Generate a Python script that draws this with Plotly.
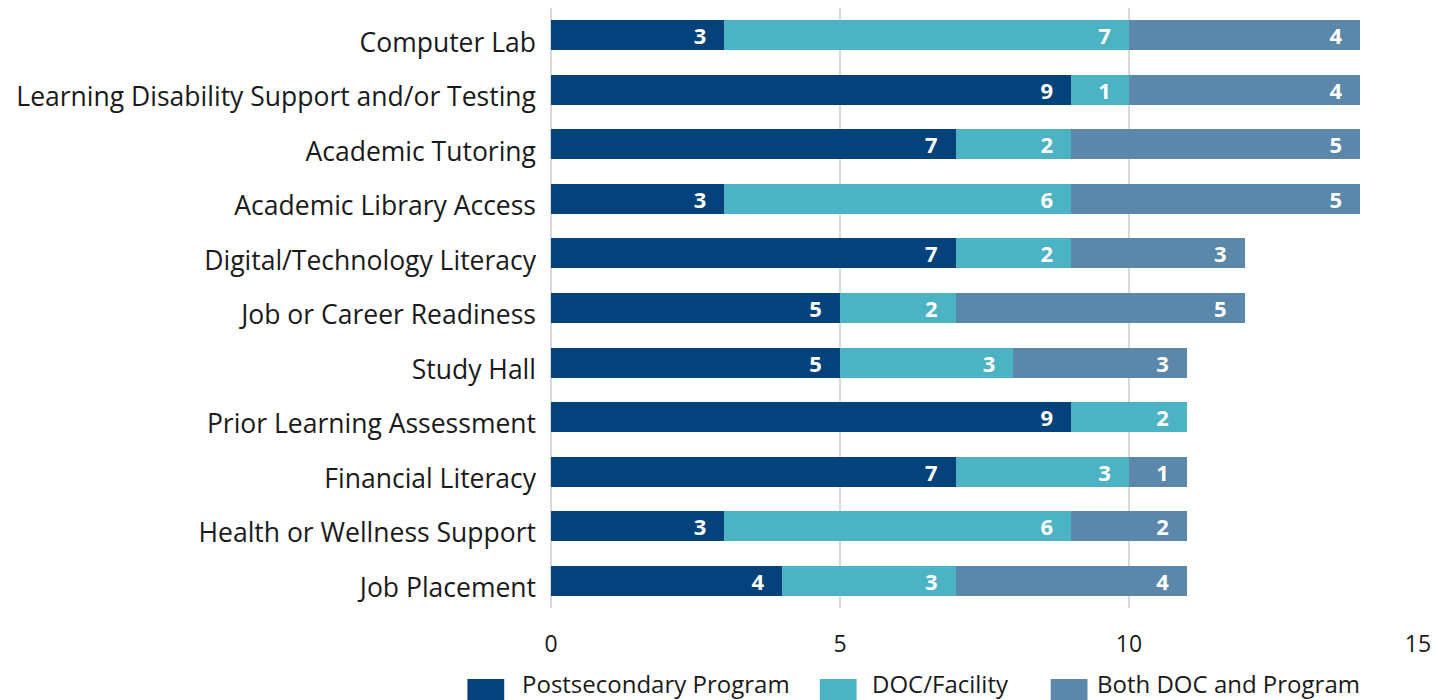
import plotly.graph_objects as go

categories = [
    "Computer Lab",
    "Learning Disability Support and/or Testing",
    "Academic Tutoring",
    "Academic Library Access",
    "Digital/Technology Literacy",
    "Job or Career Readiness",
    "Study Hall",
    "Prior Learning Assessment",
    "Financial Literacy",
    "Health or Wellness Support",
    "Job Placement",
]
postsecondary = [3, 9, 7, 3, 7, 5, 5, 9, 7, 3, 4]
doc_facility = [7, 1, 2, 6, 2, 2, 3, 2, 3, 6, 3]
both = [4, 4, 5, 5, 3, 5, 3, 0, 1, 2, 4]
x_ticks = [0, 5, 10, 15]

series_names = ["Postsecondary Program", "DOC/Facility", "Both DOC and Program"]
series_values = [postsecondary, doc_facility, both]
series_colors = ["#03427A", "#4BB3C3", "#5B87AB"]

W, H = 1439, 700
ML, MR, MT, MB = 551, 17, 8, 92
PW, PH = W - ML - MR, H - MT - MB

fig = go.Figure()
for name, vals, color in zip(series_names, series_values, series_colors):
    fig.add_trace(go.Bar(
        y=categories,
        x=vals,
        name=name,
        orientation="h",
        marker=dict(color=color, line=dict(width=0)),
        text=[(str(v) + "\u00a0\u00a0\u2009") if v else "" for v in vals],
        textposition="inside",
        insidetextanchor="end",
        constraintext="none",
        textangle=0,
        textfont=dict(color="white", size=22, family="Open Sans", weight="bold"),
        showlegend=False,
    ))

# Manual legend (large square swatches like the reference)
def px_x(px):
    return (px - ML) / PW

def px_y(py):
    return (H - MB - py) / PH

legend_items = [(467, 521), (821, 872), (1053, 1099)]
for (sx, tx), name, color in zip(legend_items, series_names, series_colors):
    fig.add_shape(type="rect", xref="paper", yref="paper",
                  x0=px_x(sx), x1=px_x(sx + 37), y0=px_y(679), y1=px_y(712),
                  fillcolor=color, line=dict(width=0), layer="above")
    fig.add_annotation(xref="paper", yref="paper", x=px_x(tx), y=px_y(683),
                       xanchor="left", yanchor="middle", text=name,
                       showarrow=False, borderpad=0,
                       font=dict(size=24, color="#1a1a1a", family="Open Sans"))

fig.update_layout(
    barmode="stack",
    bargap=0.45,
    width=W,
    height=H,
    margin=dict(l=ML, r=MR, t=MT, b=MB),
    paper_bgcolor="white",
    plot_bgcolor="white",
    font=dict(family="Open Sans", color="#1a1a1a"),
    showlegend=False,
    xaxis=dict(
        range=[0, 15],
        tickvals=x_ticks,
        showgrid=True,
        gridcolor="#D9D9D9",
        gridwidth=2,
        zeroline=True,
        zerolinecolor="#D9D9D9",
        zerolinewidth=2,
        tickfont=dict(size=23, color="#1a1a1a"),
        ticks="",
        ticklabelstandoff=20,
        fixedrange=True,
    ),
    yaxis=dict(
        categoryorder="array",
        categoryarray=categories,
        autorange="reversed",
        tickfont=dict(size=26.5, color="#1a1a1a"),
        ticks="",
        ticklabelstandoff=14,
        ticklabelshift=-7,
        showgrid=False,
    ),
)

fig.write_html("out.html", config={"displayModeBar": False},
               post_script="document.body.style.margin='0';")
